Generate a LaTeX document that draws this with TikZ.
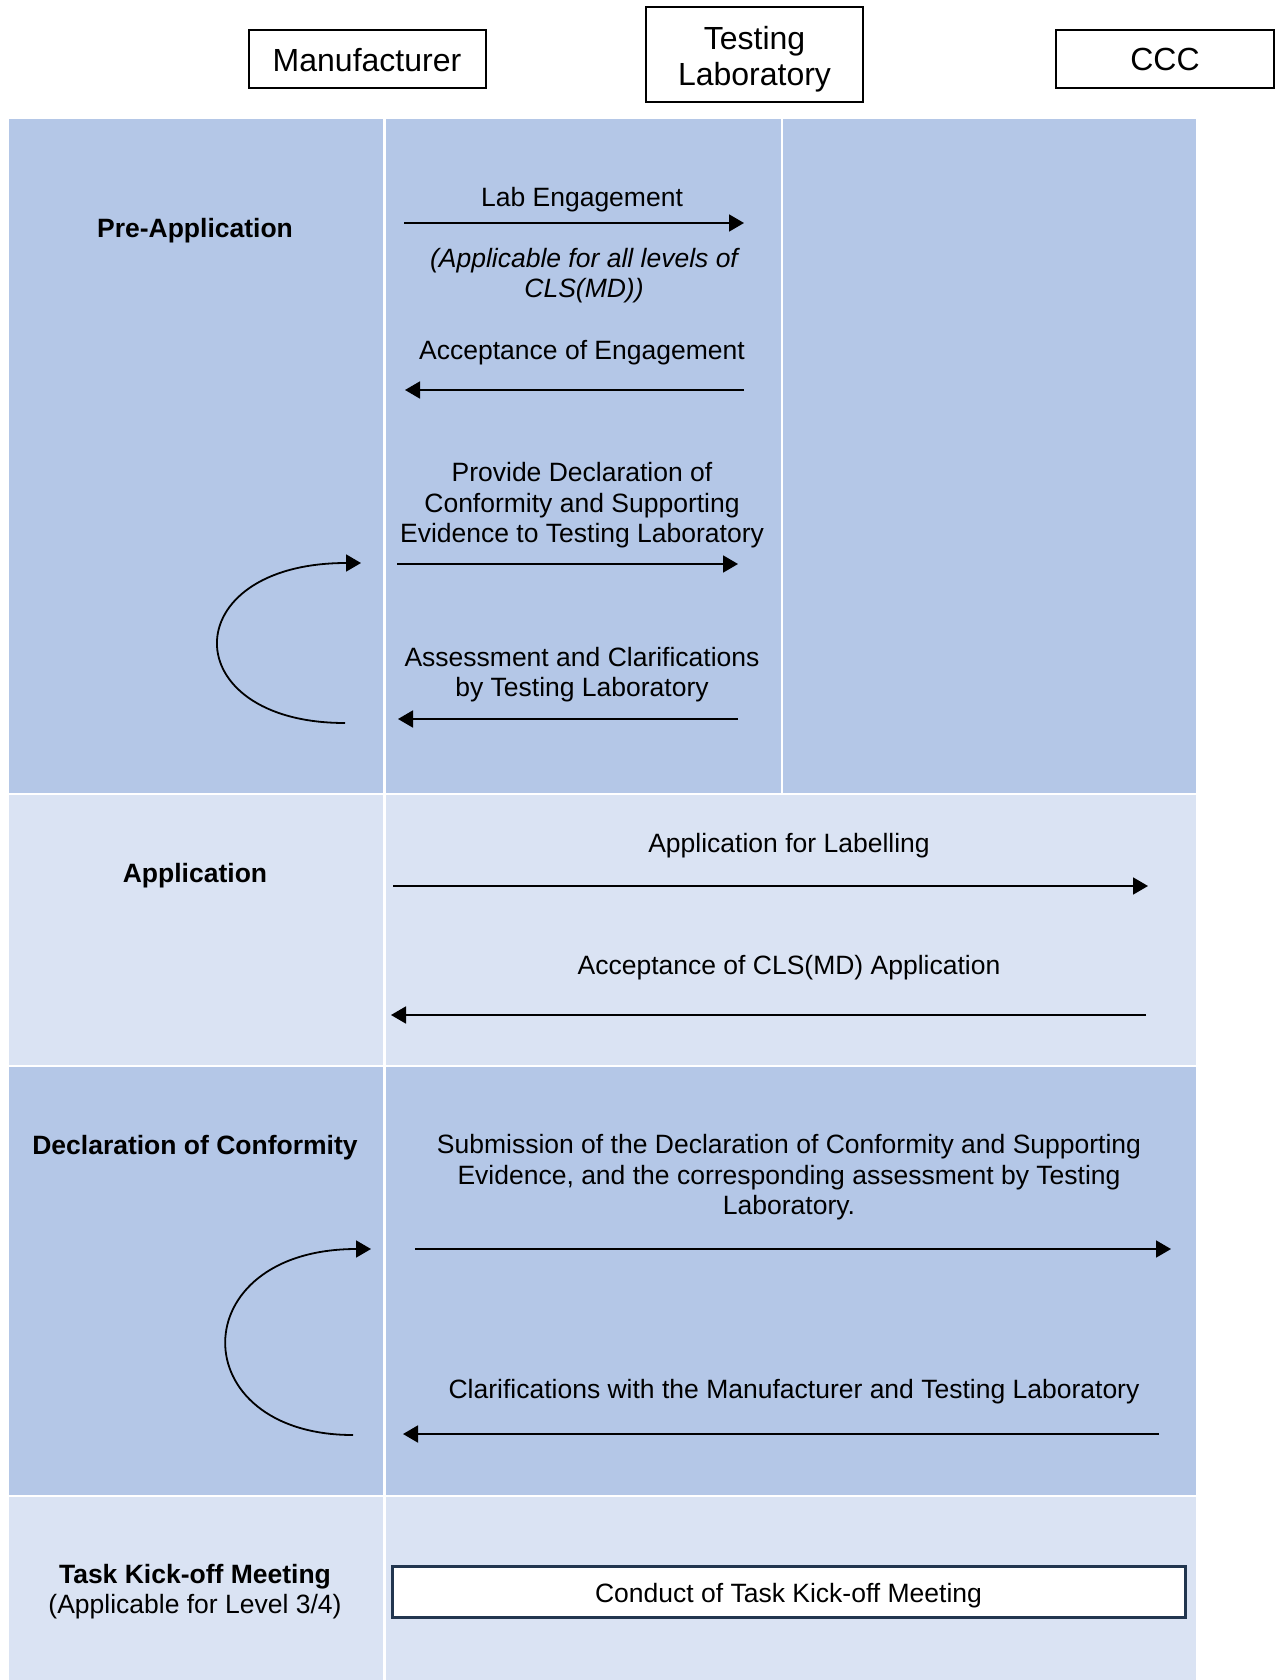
\documentclass[tikz,border=0pt]{standalone}
\usepackage{fontspec}
\setmainfont{Liberation Sans}
\usetikzlibrary{arrows.meta}
\definecolor{bandDark}{HTML}{B4C7E7}
\definecolor{bandLight}{HTML}{DAE3F3}
\definecolor{boxNavy}{HTML}{22364F}
\begin{document}
\begin{tikzpicture}[x=0.5pt,y=-0.5pt,
  hdr/.style={draw=black, line width=1pt, fill=white, align=center, inner sep=0pt,
    font=\fontsize{16}{18.2}\selectfont},
  hdrtext/.style={align=center, inner sep=0pt, font=\fontsize{16}{18.2}\selectfont},
  msg/.style={align=center, inner sep=0pt, font=\fontsize{13.25}{15.25}\selectfont},
  phase/.style={align=center, inner sep=0pt, font=\fontsize{13.25}{15.25}\selectfont},
  flow/.style={line width=0.9pt, -{Triangle[length=7.5pt,width=8.5pt]}},
  sep/.style={white, line width=1.2pt}]
% canvas
\fill[white] (0,0) rectangle (1280,1680);
\path[use as bounding box] (0,0) rectangle (1280,1680);
% bands
\fill[bandDark] (8.6,119) rectangle (1196.4,793.7);
\fill[bandLight] (8.6,793.7) rectangle (1196.4,1065.8);
\fill[bandDark] (8.6,1065.8) rectangle (1196.4,1496);
\fill[bandLight] (8.6,1496) rectangle (1196.4,1680);
% separators
\draw[sep] (384.5,119) -- (384.5,1680);
\draw[sep] (782,119) -- (782,793.7);
\draw[sep] (8.6,793.7) -- (1196.4,793.7);
\draw[sep] (8.6,1065.8) -- (1196.4,1065.8);
\draw[sep] (8.6,1496) -- (1196.4,1496);
% headers
\node[hdr, minimum width=118.5pt, minimum height=29pt] (manu) at (367,59) {};
\node[hdrtext] (manuTxt) at (367,60.5) {Manufacturer};
\node[hdr, minimum width=108.5pt, minimum height=47.5pt] (lab) at (754.5,55) {};
\node[hdrtext] (labTxt) at (754.5,59.5) {Testing\\Laboratory};
\node[hdr, minimum width=108.75pt, minimum height=29pt] (ccc) at (1165,59) {};
\node[hdrtext] (cccTxt) at (1165,59.5) {CCC};
% phase labels
\node[phase] (pPre) at (195,230.5) {\textbf{Pre-Application}};
\node[phase] (pApp) at (195,875.5) {\textbf{Application}};
\node[phase] (pDoc) at (195,1147.5) {\textbf{Declaration of Conformity}};
\node[phase] (pKick) at (195,1591.5) {\textbf{Task Kick-off Meeting}\\(Applicable for Level 3/4)};
% Pre-application messages
\node[msg] (mLab) at (582,199.5) {Lab Engagement};
\coordinate (a1s) at (404,223); \coordinate (a1e) at (744,223);
\draw[flow] (a1s) -- (a1e);
\node[msg, font=\itshape\fontsize{13.25}{15.25}\selectfont] (mApplic) at (584,275.5) {(Applicable for all levels of\\CLS(MD))};
\node[msg] (mAcc) at (582,352.5) {Acceptance of Engagement};
\coordinate (a2s) at (744,390); \coordinate (a2e) at (405,390);
\draw[flow] (a2s) -- (a2e);
\node[msg] (mProv) at (582,505.5) {Provide Declaration of\\Conformity and Supporting\\Evidence to Testing Laboratory};
\coordinate (a3s) at (397,564); \coordinate (a3e) at (738,564);
\draw[flow] (a3s) -- (a3e);
\node[msg] (mAss) at (582,674.5) {Assessment and Clarifications\\by Testing Laboratory};
\coordinate (a4s) at (738,719); \coordinate (a4e) at (398,719);
\draw[flow] (a4s) -- (a4e);
\coordinate (c1s) at (345,723); \coordinate (c1e) at (361,563);
\draw[flow] (c1s) .. controls (174,723) and (174,563) .. (c1e);
% Application messages
\node[msg] (mAppL) at (789,845.5) {Application for Labelling};
\coordinate (b1s) at (393,886); \coordinate (b1e) at (1148,886);
\draw[flow] (b1s) -- (b1e);
\node[msg] (mAccCLS) at (789,967.5) {Acceptance of CLS(MD) Application};
\coordinate (b2s) at (1146,1015); \coordinate (b2e) at (391,1015);
\draw[flow] (b2s) -- (b2e);
% Declaration messages
\node[msg] (mSub) at (789,1177.5) {Submission of the Declaration of Conformity and Supporting\\Evidence, and the corresponding assessment by Testing\\Laboratory.};
\coordinate (d1s) at (415,1249); \coordinate (d1e) at (1171,1249);
\draw[flow] (d1s) -- (d1e);
\node[msg] (mClar) at (794,1391.5) {Clarifications with the Manufacturer and Testing Laboratory};
\coordinate (d2s) at (1159,1434); \coordinate (d2e) at (403,1434);
\draw[flow] (d2s) -- (d2e);
\coordinate (c2s) at (353,1435); \coordinate (c2e) at (371,1249);
\draw[flow] (c2s) .. controls (182,1435) and (182,1249) .. (c2e);
% Kick-off
\node[draw=boxNavy, line width=1.5pt, fill=white, minimum width=396.5pt, minimum height=25.5pt, inner sep=0pt] (kick) at (788.5,1591.5) {};
\node[msg] (kickTxt) at (788.5,1595.5) {Conduct of Task Kick-off Meeting};
\end{tikzpicture}
\end{document}
